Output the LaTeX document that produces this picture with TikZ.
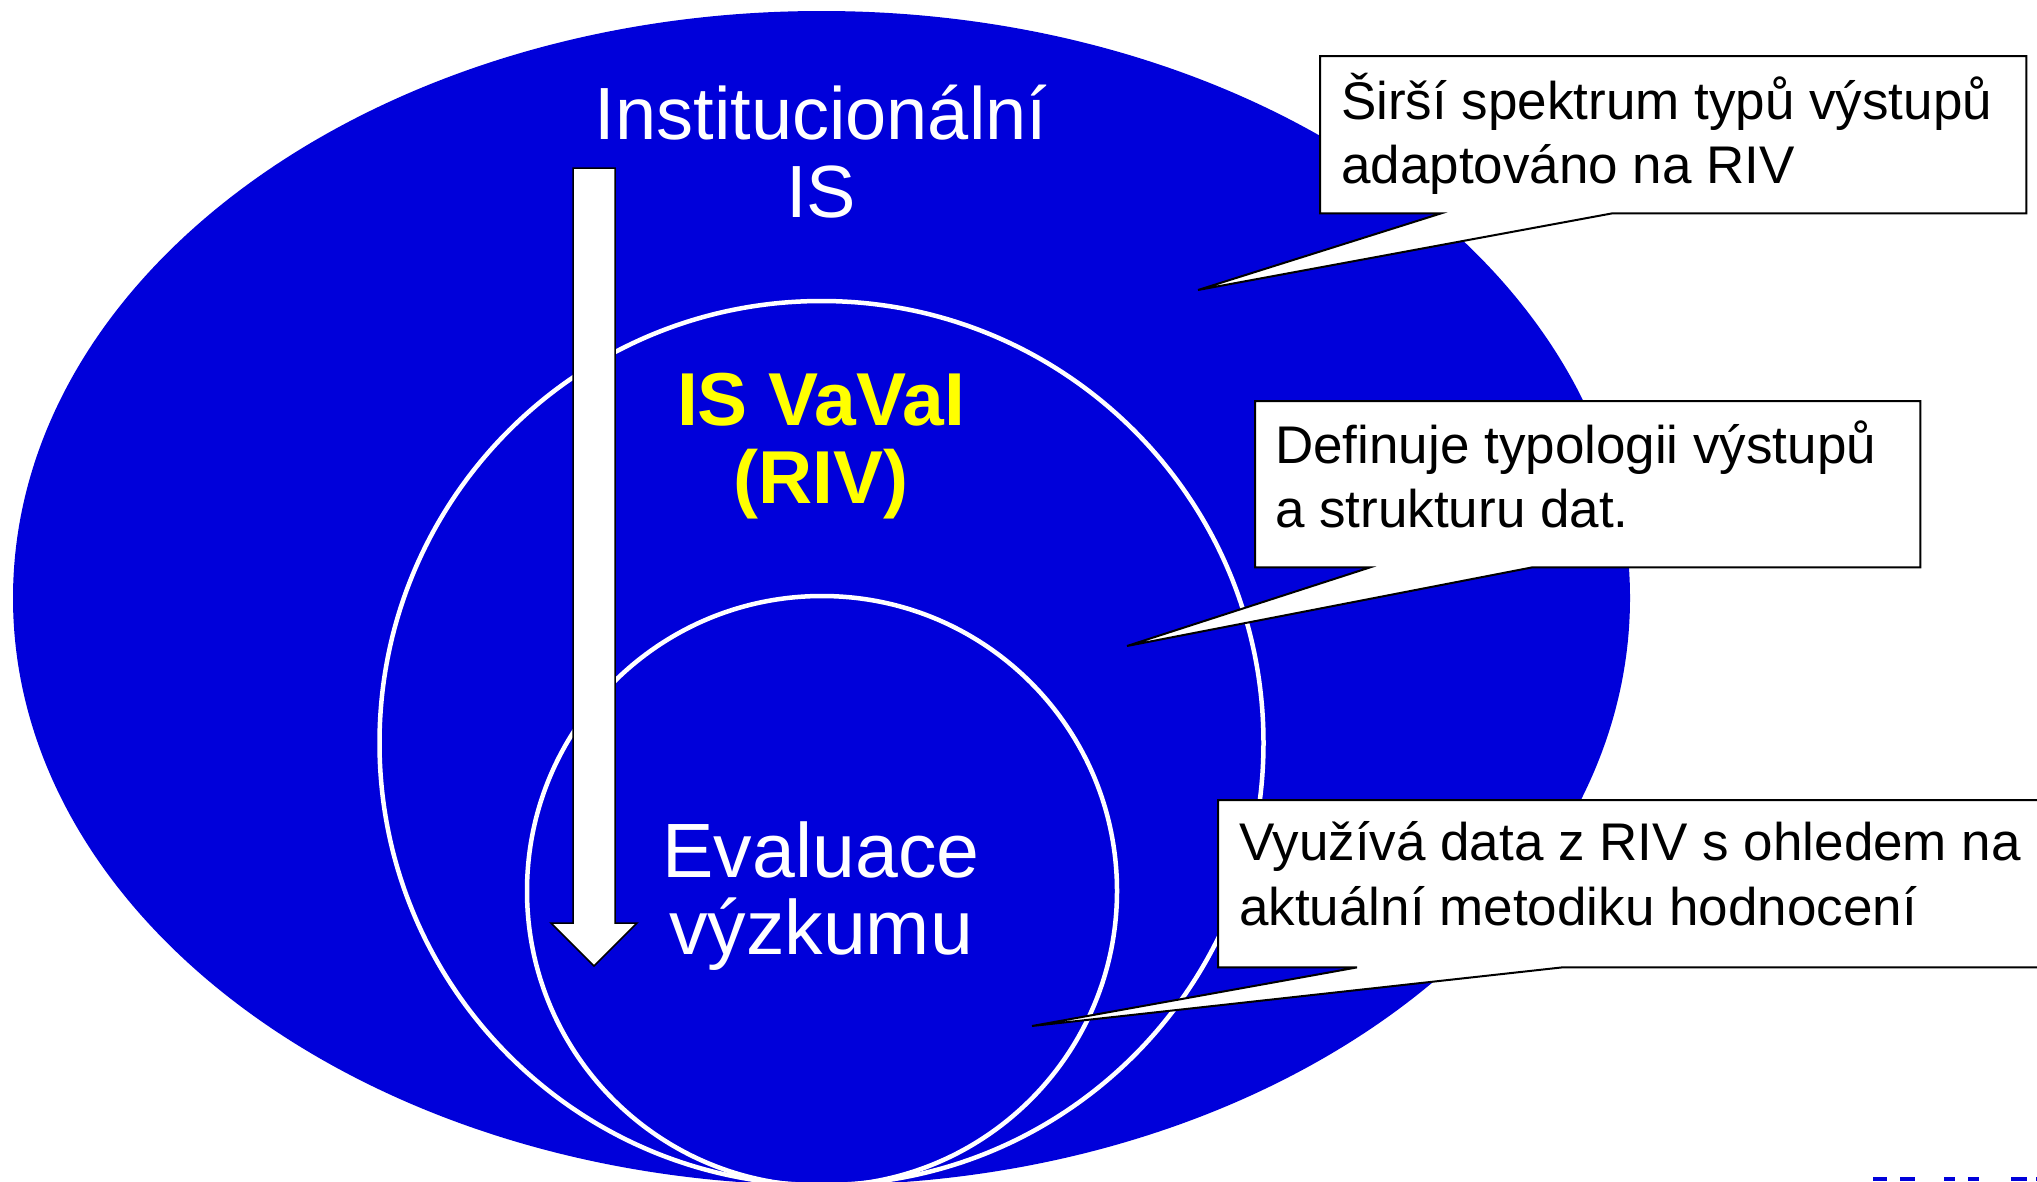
\documentclass[tikz,border=0pt]{standalone}
\usepackage{fontspec}
\setmainfont{Liberation Sans}
\usetikzlibrary{calc}
\definecolor{slideblue}{RGB}{0,0,218}
\definecolor{vyellow}{RGB}{255,255,0}
\begin{document}
\begin{tikzpicture}[x=1pt,y=-1pt,
  ring/.style={draw=white,line width=4.5pt},
  bigtext/.style={text=white,font=\fontsize{74}{78}\selectfont,inner sep=0pt,anchor=base},
  evaltext/.style={text=white,font=\fontsize{77}{78}\selectfont,inner sep=0pt,anchor=base},
  yeltext/.style={text=vyellow,font=\fontsize{75}{78}\selectfont\bfseries,inner sep=0pt,anchor=base},
  calltext/.style={text=black,font=\fontsize{53}{64}\selectfont,inner sep=0pt,anchor=base west},
  callbox/.style={draw=none,inner sep=0pt,anchor=north west},
  callline/.style={draw=black,fill=white,line width=2pt,line join=miter},
  arrowshape/.style={draw=black,fill=white,line width=1.5pt,line join=miter}]
\useasboundingbox (0,0) rectangle (2037,1181);
\clip (0,0) rectangle (2037,1181);
\fill[white] (0,0) rectangle (2037,1181);
% nested ellipse and circles
\fill[slideblue] (821.5,598) ellipse [x radius=808.5pt, y radius=587pt];
\draw[ring] (821.5,743) circle [radius=442pt];
\draw[ring] (822,891) circle [radius=295pt];
% downward arrow
\draw[arrowshape] (573,168) -- (615,168) -- (615,923) -- (637,923) -- (594,966) -- (551,923) -- (573,923) -- cycle;
% labels
\node[bigtext] (inst1) at (821,139) {Institucionální};
\node[bigtext] (inst2) at (821,217) {IS};
\node[yeltext] (vav1) at (821,425) {IS VaVaI};
\node[yeltext] (vav2) at (821,503) {(RIV)};
\node[evaltext] (eval1) at (821,877) {Evaluace};
\node[evaltext] (eval2) at (821,954) {výzkumu};
% callout 1
\coordinate (t1) at (1198,290);
\node[callbox,minimum width=706pt,minimum height=157pt] (c1) at (1320,56) {};
\draw[callline] (c1.north west) -- (c1.north east) -- (c1.south east) -- ($(c1.south west)+(292,0)$) -- (t1) -- ($(c1.south west)+(121,0)$) -- (c1.south west) -- cycle;
\node[calltext] (c1a) at (1341,119) {Širší spektrum typů výstupů};
\node[calltext] (c1b) at (1341,183) {adaptováno na RIV};
% callout 2
\coordinate (t2) at (1127,646);
\node[callbox,minimum width=665pt,minimum height=166pt] (c2) at (1255,401) {};
\draw[callline] (c2.north west) -- (c2.north east) -- (c2.south east) -- ($(c2.south west)+(277,0)$) -- (t2) -- ($(c2.south west)+(115,0)$) -- (c2.south west) -- cycle;
\node[calltext] (c2a) at (1275,463) {Definuje typologii výstupů};
\node[calltext] (c2b) at (1275,527) {a strukturu dat.};
% callout 3
\coordinate (t3) at (1032,1026);
\node[callbox,minimum width=840pt,minimum height=167pt] (c3) at (1218,800) {};
\draw[callline] (c3.north west) -- (c3.north east) -- (c3.south east) -- ($(c3.south west)+(344,0)$) -- (t3) -- ($(c3.south west)+(139,0)$) -- (c3.south west) -- cycle;
\node[calltext] (c3a) at (1239,860) {Využívá data z RIV s ohledem na};
\node[calltext] (c3b) at (1239,925) {aktuální metodiku hodnocení};
% bottom-right dashes
\foreach \a/\b in {1873/1887,1900/1915,1944/1955,1968/1979,2011/2027,2036/2044}
  \fill[slideblue] (\a,1177) rectangle (\b,1181);
\end{tikzpicture}
\end{document}
